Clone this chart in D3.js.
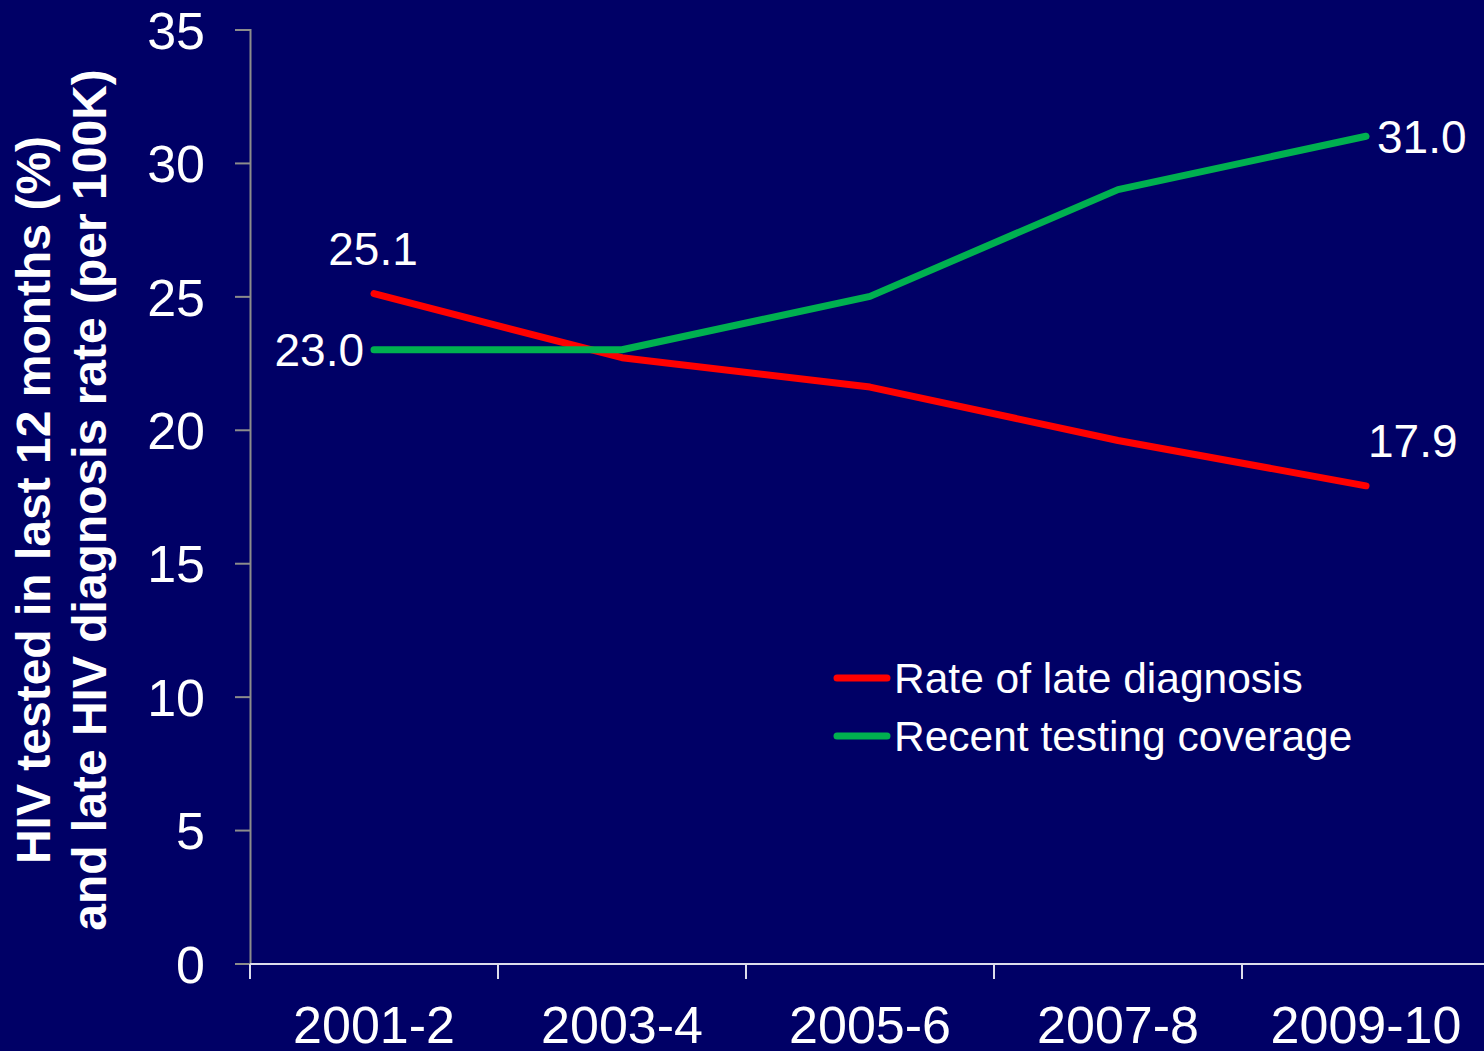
<!DOCTYPE html>
<html>
<head>
<meta charset="utf-8">
<script src="https://cdn.jsdelivr.net/npm/d3@7"></script>
<style>
  html, body { margin: 0; padding: 0; background: #000066; }
  svg { display: block; }
  text { font-family: "Liberation Sans", Arial, sans-serif; fill: #ffffff; }
</style>
</head>
<body>
<svg id="chart" width="1484" height="1051"></svg>
<script>
// ---- data ----
const categories = ["2001-2", "2003-4", "2005-6", "2007-8", "2009-10"];
const lateDiagnosisRate = [25.1, 22.7, 21.6, 19.6, 17.9];
const recentTestingCoverage = [23.0, 23.0, 25.0, 29.0, 31.0];
const seriesNames = ["Rate of late diagnosis", "Recent testing coverage"];
const yTicks = [0, 5, 10, 15, 20, 25, 30, 35];
const yTitleLines = ["HIV tested in last 12 months (%)", "and late HIV diagnosis rate (per 100K)"];

// ---- layout / style ----
const W = 1484, H = 1051;
const colors = ["#ff0000", "#00b050"];
const svg = d3.select("#chart");
svg.append("rect").attr("width", W).attr("height", H).attr("fill", "#000066");

const x = d3.scaleBand().domain(categories).range([250, 1490]).paddingInner(0).paddingOuter(0);
const y = d3.scaleLinear().domain([0, 35]).range([963.5, 29.5]);
const cx = c => x(c) + x.bandwidth() / 2;

// Y axis
const yAxis = svg.append("g").attr("transform", "translate(250,0)")
  .call(d3.axisLeft(y).tickValues(yTicks).tickSize(15).tickPadding(30).tickFormat(d3.format("d")));
yAxis.select(".domain").attr("stroke", "#8c8c8c").attr("stroke-width", 2);
yAxis.selectAll(".tick line").attr("stroke", "#8c8c8c").attr("stroke-width", 2);
yAxis.selectAll(".tick text")
  .attr("fill", "#ffffff").attr("dy", "0.36em")
  .style("font-size", "52px").style("font-family", "'Liberation Sans', Arial, sans-serif");

// X axis (labels via band scale axis, boundary ticks drawn from band positions)
const xAxis = svg.append("g").attr("transform", "translate(0,964)")
  .call(d3.axisBottom(x).tickSize(0).tickPadding(0));
xAxis.select(".domain").remove();
xAxis.selectAll(".tick text")
  .attr("fill", "#ffffff").attr("y", 79).attr("dy", 0)
  .style("font-size", "52px").style("font-family", "'Liberation Sans', Arial, sans-serif");
svg.append("line").attr("x1", 250).attr("x2", W).attr("y1", 964).attr("y2", 964)
  .attr("stroke", "#dcdcec").attr("stroke-width", 2);
const boundaries = categories.map(c => x(c)).concat([x.range()[1]]);
svg.append("g").selectAll("line").data(boundaries).join("line")
  .attr("x1", d => d).attr("x2", d => d).attr("y1", 964).attr("y2", 979)
  .attr("stroke", "#dcdcec").attr("stroke-width", 2);

// Y title
const yTitle = svg.append("text")
  .attr("transform", "rotate(-90)")
  .attr("text-anchor", "middle")
  .style("font-size", "48px").style("font-weight", "bold");
yTitle.selectAll("tspan").data(yTitleLines).join("tspan")
  .attr("x", -500).attr("y", (d, i) => 50 + i * 56).text(d => d);

// Lines
const series = [lateDiagnosisRate, recentTestingCoverage];
const line = d3.line().x((d, i) => cx(categories[i])).y(d => y(d));
svg.append("g").selectAll("path").data(series).join("path")
  .attr("d", d => line(d))
  .attr("fill", "none")
  .attr("stroke", (d, i) => colors[i])
  .attr("stroke-width", 7)
  .attr("stroke-linecap", "round")
  .attr("stroke-linejoin", "round");

// Data labels (first & last points)
const fmt = d3.format(".1f");
const labelStyle = [
  [{ idx: 0, dx: -1, dy: -29, anchor: "middle", base: 0 },
   { idx: 4, dx: 2, dy: -29, anchor: "start", base: 0 }],
  [{ idx: 0, dx: -10, dy: 0, anchor: "end", base: 1 },
   { idx: 4, dx: 11, dy: 0, anchor: "start", base: 1 }]
];
series.forEach((s, si) => {
  labelStyle[si].forEach(L => {
    svg.append("text")
      .attr("x", cx(categories[L.idx]) + L.dx)
      .attr("y", y(s[L.idx]) + L.dy)
      .attr("dy", L.base ? "0.36em" : 0)
      .attr("text-anchor", L.anchor)
      .style("font-size", "46px")
      .text(fmt(s[L.idx]));
  });
});

// Legend
const legend = svg.append("g").attr("transform", "translate(835,678)");
const li = legend.selectAll("g").data(seriesNames).join("g")
  .attr("transform", (d, i) => `translate(0,${i * 58})`);
li.append("line").attr("x1", 2).attr("x2", 52).attr("y1", 0).attr("y2", 0)
  .attr("stroke", (d, i) => colors[i]).attr("stroke-width", 7).attr("stroke-linecap", "round");
li.append("text").attr("x", 59).attr("y", 0).attr("dy", "0.36em")
  .style("font-size", "42.5px").text(d => d);
</script>
</body>
</html>
